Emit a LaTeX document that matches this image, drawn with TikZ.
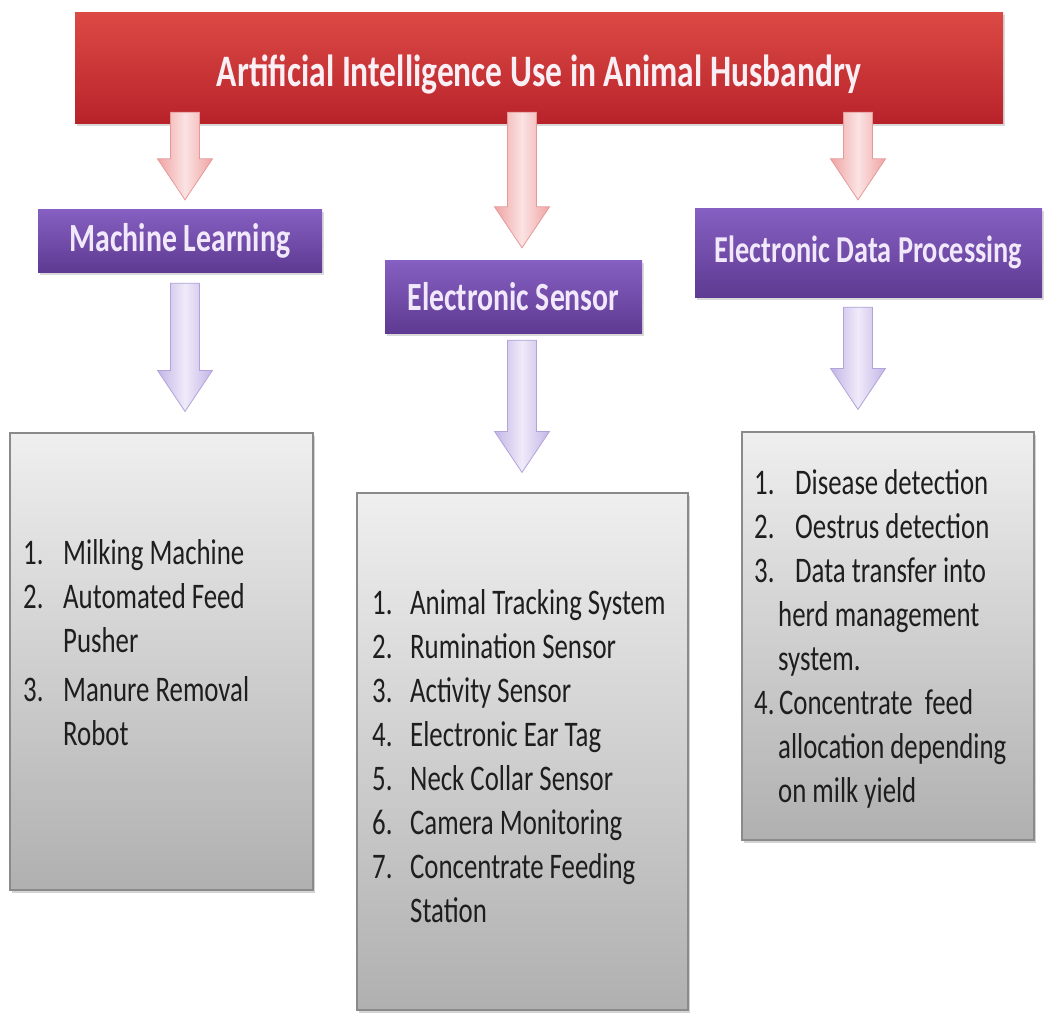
\documentclass[tikz,border=0pt]{standalone}
\usepackage{fontspec}
\setmainfont{Carlito}[FakeStretch=0.745]
\usetikzlibrary{calc,shadows}

\definecolor{redtop}{HTML}{DC4A45}
\definecolor{redbot}{HTML}{B8232A}
\definecolor{purtop}{HTML}{8660C2}
\definecolor{purbot}{HTML}{5E3A92}
\definecolor{graytop}{HTML}{EFEFEF}
\definecolor{graybot}{HTML}{B0B0B0}
\definecolor{grayline}{HTML}{8A8A8A}
\definecolor{pinkedge}{HTML}{F0A3A3}
\definecolor{pinkmid}{HTML}{FBE3E3}
\definecolor{pinkline}{HTML}{E59A9A}
\definecolor{lavedge}{HTML}{C3B5E6}
\definecolor{lavmid}{HTML}{EFEBF9}
\definecolor{lavline}{HTML}{B3A3DA}
\definecolor{listink}{HTML}{1E1E1E}
\definecolor{headink}{HTML}{FBEFF6}
\definecolor{catink}{HTML}{F1E8FB}

% downward block arrow: style, column coordinate, shaft top, tip
\newcommand{\blockarrow}[4]{%
  \path[#1] let \p3=(#2), \p1=(#3), \p2=(#4) in
    (\x3-14.5pt,\y1) -- (\x3+14.5pt,\y1) -- (\x3+14.5pt,\y2+41pt)
    -- (\x3+27.5pt,\y2+41pt) -- (\x3,\y2) -- (\x3-27.5pt,\y2+41pt)
    -- (\x3-14.5pt,\y2+41pt) -- cycle;}

\tikzset{
  titlebox/.style={rectangle, draw=none, top color=redtop, bottom color=redbot,
    drop shadow={opacity=0.3, shadow xshift=2pt, shadow yshift=-3pt},
    text=headink, inner sep=0pt, font=\fontsize{45}{50}\selectfont\bfseries},
  catbox/.style={rectangle, draw=none, top color=purtop, bottom color=purbot,
    drop shadow={opacity=0.3, shadow xshift=2pt, shadow yshift=-3pt},
    text=catink, inner sep=0pt},
  listbox/.style={rectangle, draw=grayline, line width=1.2pt,
    top color=graytop, bottom color=graybot,
    drop shadow={opacity=0.35, shadow xshift=2pt, shadow yshift=-3pt}},
  listtext/.style={inner sep=0pt, text=listink, font=\fontsize{36}{44}\selectfont},
  pinkarrow/.style={draw=pinkline, line width=0.8pt, left color=pinkedge,
    right color=pinkedge, middle color=pinkmid},
  lavarrow/.style={draw=lavline, line width=0.8pt, left color=lavedge,
    right color=lavedge, middle color=lavmid}
}

\begin{document}
\begin{tikzpicture}[x=1pt, y=-1pt]
\useasboundingbox (0,0) rectangle (1045,1013);

% heading (baseline set a little below the box centre)
\node[titlebox, minimum width=928pt, minimum height=111pt] (title) at (539,67.5)
  {\raisebox{-18.5pt}[0pt][0pt]{Artificial Intelligence Use in Animal Husbandry}};

% categories
\node[catbox, minimum width=284pt, minimum height=63pt,
  font=\fontsize{40}{46}\selectfont\bfseries] (ml) at (180,240.5) {Machine Learning};
\node[catbox, minimum width=257pt, minimum height=73pt,
  font=\fontsize{40}{46}\selectfont\bfseries] (es) at (513.5,296.5) {Electronic Sensor};
\node[catbox, minimum width=347pt, minimum height=89pt,
  font=\fontsize{38}{44}\selectfont\bfseries] (edp) at (868.5,252.5) {Electronic Data Processing};

% item panels
\node[listbox, minimum width=303pt, minimum height=457pt] (gl) at (161.5,661.5) {};
\node[listbox, minimum width=331pt, minimum height=517pt] (gm) at (522.5,751.5) {};
\node[listbox, minimum width=292pt, minimum height=408pt] (gr) at (888,636) {};

% item lists
\node[listtext, anchor=base west] (ll) at (23,564) {%
  \begin{tabular}[t]{@{}l@{}}
  \makebox[40pt][l]{1.}Milking Machine\\
  \makebox[40pt][l]{2.}Automated Feed\\
  \hspace*{40pt}Pusher\\[5pt]
  \makebox[40pt][l]{3.}Manure Removal\\
  \hspace*{40pt}Robot
  \end{tabular}};

\node[listtext, anchor=base west] (lm) at (372,614) {%
  \begin{tabular}[t]{@{}l@{}}
  \makebox[38pt][l]{1.}Animal Tracking System\\
  \makebox[38pt][l]{2.}Rumination Sensor\\
  \makebox[38pt][l]{3.}Activity Sensor\\
  \makebox[38pt][l]{4.}Electronic Ear Tag\\
  \makebox[38pt][l]{5.}Neck Collar Sensor\\
  \makebox[38pt][l]{6.}Camera Monitoring\\
  \makebox[38pt][l]{7.}Concentrate Feeding\\
  \hspace*{38pt}Station
  \end{tabular}};

\node[listtext, anchor=base west] (lr) at (754,494) {%
  \begin{tabular}[t]{@{}l@{}}
  \makebox[41pt][l]{1.}Disease detection\\
  \makebox[41pt][l]{2.}Oestrus detection\\
  \makebox[41pt][l]{3.}Data transfer into\\
  \hspace*{24pt}herd management\\
  \hspace*{24pt}system.\\
  \makebox[25pt][l]{4.}Concentrate\ \ feed\\
  \hspace*{24pt}allocation depending\\
  \hspace*{24pt}on milk yield
  \end{tabular}};

% arrow columns
\coordinate (cL) at (185,0);
\coordinate (cM) at (522,0);
\coordinate (cR) at (858,0);

% heading to categories
\blockarrow{pinkarrow}{cL}{$(title.south)+(0,-11)$}{$(ml.north)+(0,-9)$}
\blockarrow{pinkarrow}{cM}{$(title.south)+(0,-11)$}{$(es.north)+(0,-12)$}
\blockarrow{pinkarrow}{cR}{$(title.south)+(0,-11)$}{$(edp.north)+(0,-8)$}

% categories to panels
\blockarrow{lavarrow}{cL}{$(ml.south)+(0,11)$}{$(gl.north)+(0,-21)$}
\blockarrow{lavarrow}{cM}{$(es.south)+(0,7)$}{$(gm.north)+(0,-20)$}
\blockarrow{lavarrow}{cR}{$(edp.south)+(0,10)$}{$(gr.north)+(0,-22)$}
\end{tikzpicture}
\end{document}
